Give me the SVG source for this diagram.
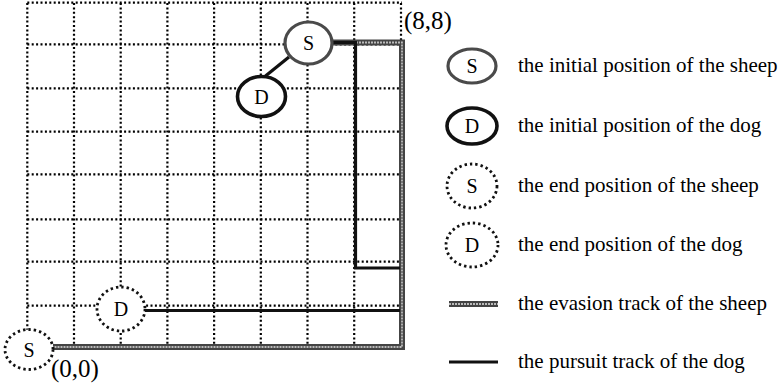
<svg xmlns="http://www.w3.org/2000/svg" width="781" height="384" viewBox="0 0 781 384">
<style>
.grid{stroke:#000;stroke-width:2.2;stroke-dasharray:2 2.4;fill:none}
.sini{fill:#fff;stroke:#4a4a4a;stroke-width:3.2}
.dini{fill:#fff;stroke:#111;stroke-width:3.6}
.fin{fill:#fff;stroke:#111;stroke-width:2.8;stroke-dasharray:2.4 3}
.lbl{font-family:"Liberation Serif","Times New Roman",serif;font-size:20px;fill:#000;text-anchor:middle}
.leg{font-family:"Liberation Serif","Times New Roman",serif;font-size:21px;fill:#000}
.coord{font-family:"Liberation Serif","Times New Roman",serif;font-size:25px;fill:#000}
.sheepO{fill:none;stroke:#444;stroke-width:6}
.sheepI{fill:none;stroke:#bbb;stroke-width:1.8;stroke-dasharray:2 1}
.dog{fill:none;stroke:#111;stroke-width:3.2}
</style>
<rect width="781" height="384" fill="#fff"/>
<g id="grid">
<path class="grid" d="M27.3,3V330M74,3V347M120.7,3V347M167.4,3V347M214.1,3V347M260.8,3V347M307.5,3V347M354.2,3V347M401,3V43"/>
<path class="grid" d="M27.3,2.7H402M27.3,44.3H402M27.3,88.3H402M27.3,131.7H402M27.3,174.3H402M27.3,219.3H402M27.3,261.7H402M27.3,305.7H402"/>
</g>
<g id="connectors">
<line class="dog" x1="263" y1="78" x2="289" y2="57"/>
<path class="sheepO" d="M332,42.5H402V347H53"/>
<path class="sheepI" d="M332,42.5H402V347H53"/>
<path class="dog" d="M332,42.5H355.5V268H400M400,310.5H145"/>
</g>
<g id="sheep-start"><ellipse class="sini" cx="308.5" cy="43" rx="23.5" ry="21"/><text class="lbl" x="308.5" y="50">S</text></g>
<g id="dog-start"><ellipse class="dini" cx="261.5" cy="96.5" rx="24" ry="20"/><text class="lbl" x="261.5" y="103.5">D</text></g>
<g id="sheep-end"><ellipse class="fin" cx="29" cy="349.5" rx="24" ry="20"/><text class="lbl" x="29" y="356.5">S</text></g>
<g id="dog-end"><ellipse class="fin" cx="121" cy="309" rx="24" ry="22"/><text class="lbl" x="121" y="316">D</text></g>
<text class="coord" x="404" y="29">(8,8)</text>
<text class="coord" x="51" y="377">(0,0)</text>
<g id="legend">
<g id="leg-sheep-start"><ellipse class="sini" cx="472" cy="66" rx="24" ry="17"/><text class="lbl" x="472" y="73">S</text><text class="leg" x="518" y="72">the initial position of the sheep</text></g>
<g id="leg-dog-start"><ellipse class="dini" cx="472" cy="126" rx="25" ry="18"/><text class="lbl" x="472" y="133">D</text><text class="leg" x="518" y="132">the initial position of the dog</text></g>
<g id="leg-sheep-end"><ellipse class="fin" cx="472" cy="186" rx="25" ry="22"/><text class="lbl" x="472" y="193">S</text><text class="leg" x="518" y="192">the end position of the sheep</text></g>
<g id="leg-dog-end"><ellipse class="fin" cx="472" cy="245" rx="26" ry="22"/><text class="lbl" x="472" y="252">D</text><text class="leg" x="518" y="251">the end position of the dog</text></g>
<g id="leg-evasion"><path class="sheepO" d="M449,304H498"/><path class="sheepI" d="M449,304H498"/><text class="leg" x="518" y="310">the evasion track of the sheep</text></g>
<g id="leg-pursuit"><path class="dog" d="M449,362H498"/><text class="leg" x="518" y="368">the pursuit track of the dog</text></g>
</g>
</svg>
